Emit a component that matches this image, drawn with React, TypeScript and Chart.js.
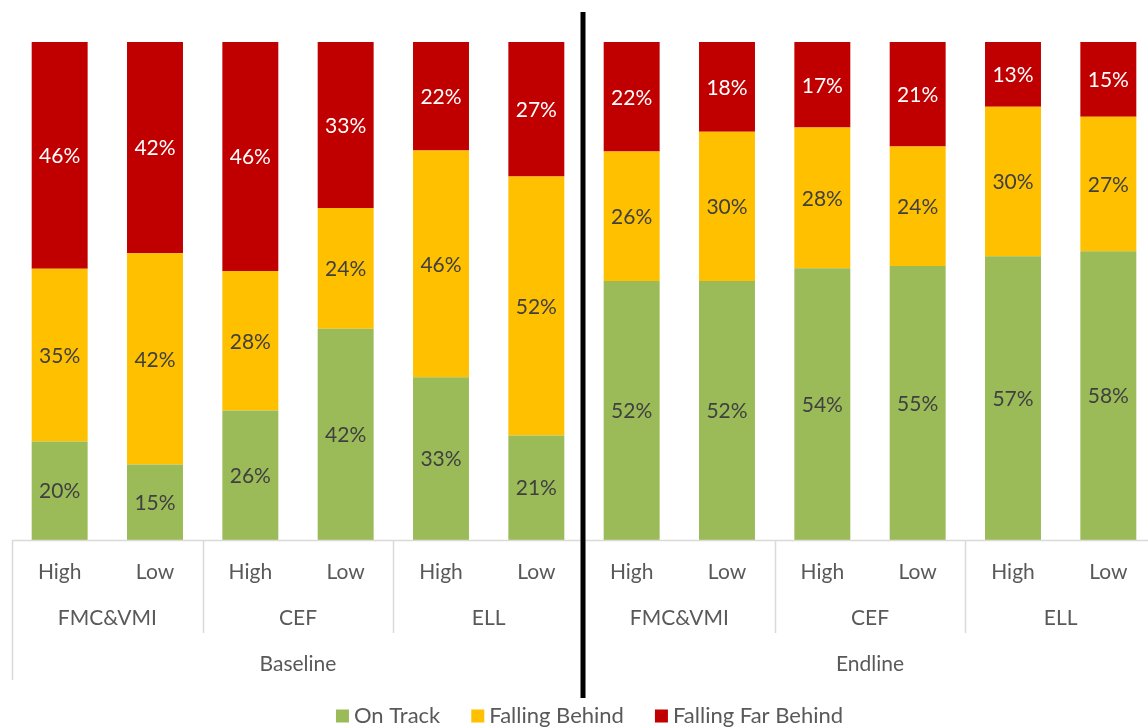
import { useEffect, useRef } from "react";
import { Chart, registerables } from "chart.js";

Chart.register(...registerables);

// ---- data ----
const levels = ["High", "Low", "High", "Low", "High", "Low", "High", "Low", "High", "Low", "High", "Low"];
const groups = ["FMC&VMI", "CEF", "ELL", "FMC&VMI", "CEF", "ELL"];
const phases = ["Baseline", "Endline"];
const seriesNames = ["On Track", "Falling Behind", "Falling Far Behind"];
const onTrack = [20, 15, 26, 42, 33, 21, 52, 52, 54, 55, 57, 58];
const fallingBehind = [35, 42, 28, 24, 46, 52, 26, 30, 28, 24, 30, 27];
const fallingFarBehind = [46, 42, 46, 33, 22, 27, 22, 18, 17, 21, 13, 15];

// ---- styles ----
const seriesColors = ["#9BBB59", "#FFC000", "#C00000"];
const labelColors = ["#404040", "#404040", "#FFFFFF"];
const FONT = "Lato, 'Open Sans', sans-serif";

const rawSeries = [onTrack, fallingBehind, fallingFarBehind];
const totals = levels.map((_, i) => rawSeries.reduce((s, arr) => s + arr[i], 0));
const pctSeries = rawSeries.map((arr) => arr.map((v, i) => (v / totals[i]) * 100));

const overlay = {
  id: "overlay",
  afterDatasetsDraw(chart: any) {
    const ctx: CanvasRenderingContext2D = chart.ctx;
    const { left, right, bottom } = chart.chartArea;
    const n = levels.length;
    const cw = (right - left) / n;
    ctx.save();

    // data labels
    ctx.font = `21px ${FONT}`;
    ctx.textAlign = "center";
    ctx.textBaseline = "middle";
    chart.data.datasets.forEach((_: any, di: number) => {
      const meta = chart.getDatasetMeta(di);
      meta.data.forEach((el: any, i: number) => {
        ctx.fillStyle = labelColors[di];
        ctx.fillText(rawSeries[di][i] + "%", el.x, (el.y + el.base) / 2 + 1);
      });
    });

    // category axis
    ctx.strokeStyle = "#D9D9D9";
    ctx.lineWidth = 1.5;
    ctx.beginPath();
    ctx.moveTo(left, bottom + 0.5);
    ctx.lineTo(right, bottom + 0.5);
    for (let k = 0; k <= n; k += 2) {
      const x = Math.round(left + k * cw) + 0.5;
      const full = k % 6 === 0;
      ctx.moveTo(x, bottom);
      ctx.lineTo(x, full ? 680 : 633);
    }
    ctx.stroke();

    ctx.fillStyle = "#595959";
    ctx.font = `21px ${FONT}`;
    levels.forEach((l, i) => {
      ctx.fillText(l, left + (i + 0.5) * cw, 572);
    });
    groups.forEach((g, i) => {
      ctx.fillText(g, left + (i * 2 + 1) * cw, 618);
    });
    phases.forEach((p, i) => {
      ctx.fillText(p, left + (i * 6 + 3) * cw, 664);
    });

    // divider line
    ctx.strokeStyle = "#000000";
    ctx.lineWidth = 5;
    ctx.beginPath();
    const dx = left + 6 * cw - 1;
    ctx.moveTo(dx, 12);
    ctx.lineTo(dx, 698);
    ctx.stroke();

    // legend
    ctx.font = `22px ${FONT}`;
    ctx.textAlign = "left";
    const sq = 13;
    const gapText = 5;
    const gapItem = 31;
    const widths = seriesNames.map((s) => sq + gapText + ctx.measureText(s).width);
    const total = widths.reduce((a, b) => a + b, 0) + gapItem * (widths.length - 1);
    let x = 589.5 - total / 2;
    const ly = 716;
    seriesNames.forEach((s, i) => {
      ctx.fillStyle = seriesColors[i];
      ctx.fillRect(x, ly - sq / 2, sq, sq);
      ctx.fillStyle = "#595959";
      ctx.fillText(s, x + sq + gapText, ly);
      x += widths[i] + gapItem;
    });

    ctx.restore();
  },
};

export default function App() {
  const ref = useRef<HTMLCanvasElement | null>(null);

  useEffect(() => {
    document.body.style.margin = "0";
    document.body.style.overflow = "hidden";
    const canvas = ref.current;
    if (!canvas) return;
    const chart = new Chart(canvas, {
      type: "bar",
      data: {
        labels: levels,
        datasets: seriesNames.map((name, di) => ({
          label: name,
          data: pctSeries[di],
          backgroundColor: seriesColors[di],
          borderWidth: 0,
          barPercentage: 0.587,
          categoryPercentage: 1,
        })),
      },
      options: {
        responsive: false,
        animation: false,
        layout: { padding: { top: 42, left: 12, right: 4, bottom: 188 } },
        plugins: { legend: { display: false }, tooltip: { enabled: false } },
        scales: {
          x: { stacked: true, display: false },
          y: { stacked: true, display: false, min: 0, max: 100 },
        },
      },
      plugins: [overlay],
    });
    return () => chart.destroy();
  }, []);

  return (
    <div style={{ width: 1148, height: 728, overflow: "hidden", position: "relative", background: "#fff" }}>
      <canvas ref={ref} width={1160} height={728} style={{ display: "block", width: 1160, height: 728 }} />
    </div>
  );
}
